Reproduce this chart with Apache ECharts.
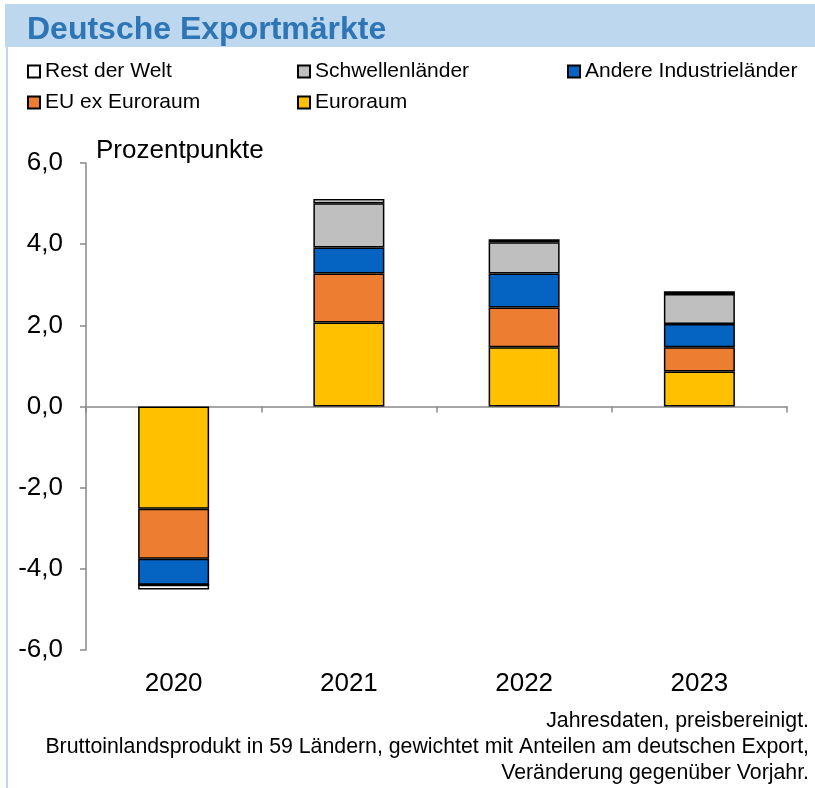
<!DOCTYPE html>
<html>
<head>
<meta charset="utf-8">
<title>Deutsche Exportmärkte</title>
<script src="https://cdn.jsdelivr.net/npm/echarts@6/dist/echarts.min.js"></script>
<style>
    html, body { margin: 0; padding: 0; background: #fff; }
    #chart { width: 815px; height: 788px; }
</style>
</head>
<body>
<div id="chart"></div>
<script>
// Jahre und Beiträge (Prozentpunkte)
var years = ['2020', '2021', '2022', '2023'];
var euroraum = [-2.52, 2.07, 1.46, 0.86];
var euExEuroraum = [-1.23, 1.21, 0.98, 0.60];
var andereIndustrie = [-0.64, 0.64, 0.84, 0.57];
var schwellen = [0, 1.09, 0.77, 0.74];
var restWelt = [-0.12, 0.10, 0.07, 0.07];
var yTicks = [-6, -4, -2, 0, 2, 4, 6];
var notes = [
    'Jahresdaten, preisbereinigt.',
    'Bruttoinlandsprodukt in 59 Ländern, gewichtet mit Anteilen am deutschen Export,',
    'Veränderung gegenüber Vorjahr.'
];

var font = 'Liberation Sans, Arial, sans-serif';
var myChart = echarts.init(document.getElementById('chart'));

function bar(name, data, color) {
    return {
        name: name,
        type: 'bar',
        stack: 'total',
        barWidth: 71,
        data: data,
        itemStyle: { color: color, borderColor: '#000', borderWidth: 1.5 },
        emphasis: { disabled: true }
    };
}

function legendAt(name, left, top) {
    return {
        data: [name],
        left: left,
        top: top,
        padding: 0,
        icon: 'rect',
        itemWidth: 12,
        itemHeight: 12,
        selectedMode: false,
        textStyle: { fontFamily: font, fontSize: 21, color: '#000' }
    };
}

var graphics = [
    { type: 'rect', z: -10, shape: { x: 5, y: 4, width: 810, height: 43 }, style: { fill: '#BDD7EE' } },
    { type: 'rect', z: -10, shape: { x: 6, y: 47, width: 2, height: 741 }, style: { fill: '#BDD7EE' } }
];
notes.forEach(function (t, i) {
    graphics.push({
        type: 'text',
        x: 809,
        y: 721 + i * 26,
        style: { text: t, align: 'right', verticalAlign: 'middle', font: '21.3px ' + font, fill: '#000' }
    });
});

var option = {
    animation: false,
    backgroundColor: '#fff',
    title: {
        text: 'Deutsche Exportmärkte',
        left: 27,
        top: 14,
        padding: 0,
        textStyle: { fontFamily: font, fontSize: 32, fontWeight: 'bold', color: '#2E75B6' }
    },
    graphic: graphics,
    legend: [
        legendAt('Rest der Welt', 27, 61),
        legendAt('Schwellenländer', 297, 61),
        legendAt('Andere Industrieländer', 567, 61),
        legendAt('EU ex Euroraum', 27, 92),
        legendAt('Euroraum', 297, 92)
    ],
    grid: { left: 86, right: 28, top: 163, bottom: 138 },
    xAxis: [
        {
            type: 'category',
            data: years,
            axisLine: { onZero: true, lineStyle: { color: '#898989', width: 1.5 } },
            axisTick: { show: true, length: 6, lineStyle: { color: '#898989', width: 1.5 } },
            axisLabel: { show: false }
        },
        {
            type: 'category',
            data: years,
            position: 'bottom',
            axisLine: { show: false, onZero: false },
            axisTick: { show: false },
            axisLabel: { margin: 21, fontFamily: font, fontSize: 26, color: '#000' }
        }
    ],
    yAxis: {
        type: 'value',
        min: yTicks[0],
        max: yTicks[yTicks.length - 1],
        interval: 2,
        name: 'Prozentpunkte',
        nameLocation: 'end',
        nameGap: 12,
        nameTextStyle: { fontFamily: font, fontSize: 26, color: '#000', align: 'left', verticalAlign: 'middle', padding: [0, 0, 0, 10] },
        splitLine: { show: false },
        axisLine: { show: true, lineStyle: { color: '#898989', width: 1.5 } },
        axisTick: { show: true, length: 6, lineStyle: { color: '#898989', width: 1.5 } },
        axisLabel: {
            margin: 23,
            fontFamily: font,
            fontSize: 26,
            color: '#000',
            formatter: function (v) { return v.toFixed(1).replace('.', ','); }
        }
    },
    series: [
        bar('Euroraum', euroraum, '#FFC000'),
        bar('EU ex Euroraum', euExEuroraum, '#ED7D31'),
        bar('Andere Industrieländer', andereIndustrie, '#0563C1'),
        bar('Schwellenländer', schwellen, '#BFBFBF'),
        bar('Rest der Welt', restWelt, '#FFFFFF')
    ]
};

myChart.setOption(option);
window.addEventListener("resize", function () {
    myChart.resize();
});
</script>
</body>
</html>
